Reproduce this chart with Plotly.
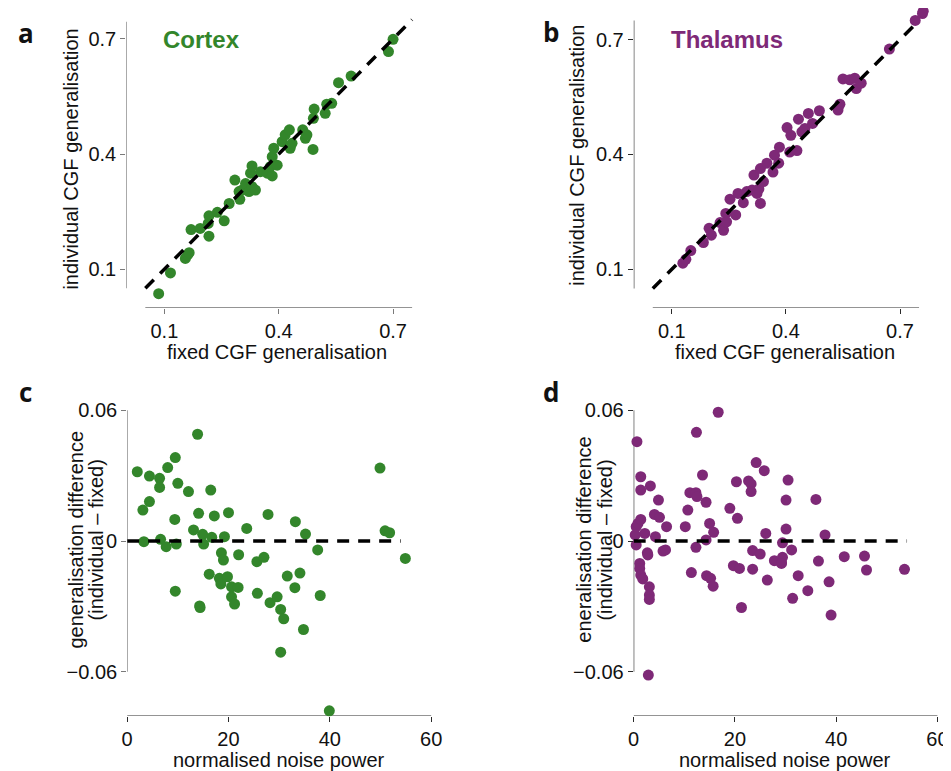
import plotly.graph_objects as go

W, H = 951, 771
OFF = 8  # default page body margin
FW, FH = W - OFF, H - OFF

# ---------------- data ----------------
CORTEX_FIXED = [0.085, 0.116, 0.155, 0.161, 0.165, 0.170, 0.194, 0.217, 0.215, 0.217, 0.239, 0.257,
                0.270, 0.298, 0.285, 0.296, 0.304, 0.313, 0.322, 0.330, 0.339, 0.326, 0.330, 0.352,
                0.370, 0.383, 0.378, 0.396, 0.383, 0.387, 0.409, 0.430, 0.435, 0.417, 0.428, 0.463,
                0.470, 0.474, 0.490, 0.491, 0.493, 0.522, 0.526, 0.539, 0.557, 0.590, 0.688, 0.700]
CORTEX_INDIV = [0.036, 0.090, 0.128, 0.137, 0.143, 0.203, 0.206, 0.186, 0.219, 0.239, 0.248, 0.226,
                0.271, 0.282, 0.332, 0.302, 0.306, 0.323, 0.302, 0.315, 0.306, 0.350, 0.369, 0.354,
                0.350, 0.343, 0.367, 0.371, 0.393, 0.415, 0.432, 0.415, 0.428, 0.450, 0.463, 0.463,
                0.441, 0.450, 0.412, 0.493, 0.517, 0.506, 0.530, 0.532, 0.586, 0.603, 0.667, 0.699]

THAL_FIXED = [0.129, 0.137, 0.150, 0.183, 0.198, 0.204, 0.227, 0.236, 0.242, 0.244, 0.268, 0.253,
              0.274, 0.288, 0.297, 0.311, 0.324, 0.333, 0.329, 0.316, 0.333, 0.341, 0.350, 0.366,
              0.370, 0.383, 0.381, 0.410, 0.429, 0.413, 0.403, 0.433, 0.442, 0.450, 0.459, 0.470,
              0.488, 0.537, 0.542, 0.550, 0.568, 0.581, 0.585, 0.598, 0.672, 0.740, 0.759, 0.761]
THAL_INDIV = [0.116, 0.126, 0.149, 0.170, 0.207, 0.189, 0.222, 0.202, 0.246, 0.224, 0.242, 0.283,
              0.298, 0.274, 0.303, 0.307, 0.298, 0.272, 0.310, 0.346, 0.363, 0.329, 0.377, 0.354,
              0.398, 0.419, 0.377, 0.406, 0.410, 0.450, 0.470, 0.492, 0.459, 0.468, 0.507, 0.481,
              0.514, 0.516, 0.531, 0.597, 0.595, 0.599, 0.572, 0.586, 0.675, 0.750, 0.768, 0.774]

CORTEX_NOISE = [2.0, 3.1, 3.3, 4.4, 4.4, 6.4, 6.4, 6.6, 7.7, 8.0, 9.5, 9.4, 9.7, 9.5, 10.0, 12.1,
                13.9, 13.1, 14.1, 14.9, 15.1, 14.3, 14.4, 16.5, 16.7, 17.2, 16.2, 18.2, 18.5, 18.6,
                19.0, 19.2, 19.8, 20.0, 20.6, 21.9, 20.6, 21.2, 22.0, 23.6, 25.6, 27.0, 25.7, 27.8,
                28.2, 29.6, 30.3, 30.9, 30.3, 31.6, 33.2, 33.1, 34.1, 34.8, 35.2, 37.6, 38.1, 39.9,
                49.9, 50.9, 51.8, 54.9]
CORTEX_DIFF = [0.0318, 0.0142, -0.0003, 0.0298, 0.0181, 0.0288, 0.0246, 0.0008, -0.0026, 0.0337,
               0.0383, 0.0099, -0.0014, -0.0230, 0.0265, 0.0227, 0.0490, 0.0051, 0.0127, 0.0031,
               -0.0014, -0.0298, -0.0305, 0.0234, 0.0017, 0.0115, -0.0152, -0.0171, -0.0197, -0.0054,
               -0.0087, 0.0020, -0.0164, 0.0130, -0.0210, -0.0213, -0.0256, -0.0289, -0.0063, 0.0058,
               -0.0095, -0.0075, -0.0240, 0.0122, -0.0283, -0.0256, -0.0314, -0.0357, -0.0510, -0.0161,
               0.0089, -0.0214, -0.0147, -0.0406, 0.0032, -0.0041, -0.0250, -0.0779,
               0.0335, 0.0047, 0.0038, -0.0080]

THAL_NOISE = [0.65, 1.4, 1.4, 0.5, 0.85, 1.4, 0.3, 2.2, 0.5, 3.3, 4.1, 5.1, 4.9, 4.3, 2.7, 2.8,
              1.2, 1.2, 1.4, 1.8, 3.1, 3.1, 3.1, 2.9, 5.8, 6.3, 6.5, 10.2, 10.7, 11.1, 12.3, 12.5,
              12.4, 13.6, 14.3, 15.0, 15.8, 14.3, 12.3, 11.4, 14.4, 15.2, 15.7, 16.7, 19.0, 20.3,
              20.5, 19.7, 20.9, 21.3, 22.7, 23.2, 23.2, 24.2, 25.8, 23.5, 25.0, 23.5, 26.1, 26.4,
              27.8, 29.2, 29.4, 29.2, 29.4, 30.1, 30.1, 30.5, 31.2, 32.5, 31.4, 34.4, 36.0, 36.5,
              37.8, 38.6, 39.0, 41.6, 45.6, 46.0, 53.5]
THAL_DIFF = [0.0456, 0.0295, 0.0234, 0.0066, 0.0081, 0.0099, 0.0028, 0.0035, -0.0018, 0.0253,
             0.0122, 0.0109, 0.0188, 0.0020, -0.0054, -0.0064, -0.0103, -0.0126, -0.0156, -0.0174,
             -0.0210, -0.0248, -0.0268, -0.0615, -0.0046, -0.0041, 0.0066, 0.0066, 0.0142, 0.0222,
             0.0222, 0.0204, 0.0499, 0.0303, 0.0178, 0.0081, 0.0040, 0.0005, -0.0029, -0.0145,
             -0.0159, -0.0171, -0.0207, 0.0591, 0.0150, 0.0272, 0.0104, -0.0113, -0.0126, -0.0305,
             0.0276, 0.0262, 0.0227, 0.0360, 0.0323, -0.0044, -0.0060, -0.0129, 0.0035, -0.0179,
             -0.0090, -0.0098, -0.0075, -0.0103, -0.0008, 0.0055, 0.0188, 0.0280, -0.0041, -0.0159,
             -0.0263, -0.0228, 0.0191, -0.0092, 0.0028, -0.0187, -0.0340, -0.0072, -0.0069, -0.0133,
             -0.0130]

DIAG = [0.05, 0.75]
ZERO_X = [0, 54]
ZERO_Y = [0, 0]

GEN_TICKS = [0.1, 0.4, 0.7]
GEN_TICK_TEXT = ["0.1", "0.4", "0.7"]
DIFF_TICKS = [-0.06, 0, 0.06]
DIFF_TICK_TEXT = ["\u22120.06", "0", "0.06"]
NOISE_TICKS = [0, 20, 40, 60]
NOISE_TICK_TEXT = ["0", "20", "40", "60"]

# ---------------- style ----------------
GREEN = "#33862b"
PURPLE = "#7e2977"
FONT = "Liberation Sans, Arial, sans-serif"
AX_FS = 20
GREY_AX = "#7a7a7a"
DARK_AX = "#2a2a2a"


def px(x):
    return (x - OFF) / FW


def py(y):
    return 1 - (y - OFF) / FH


fig = go.Figure()

panels = [
    ("", CORTEX_FIXED, CORTEX_INDIV, GREEN),
    ("2", THAL_FIXED, THAL_INDIV, PURPLE),
    ("3", CORTEX_NOISE, CORTEX_DIFF, GREEN),
    ("4", THAL_NOISE, THAL_DIFF, PURPLE),
]

for suf, xs, ys, col in panels:
    fig.add_trace(go.Scatter(x=xs, y=ys, mode="markers", xaxis="x" + suf, yaxis="y" + suf,
                             marker=dict(color=col, size=11, line=dict(width=0)),
                             cliponaxis=False, showlegend=False, hoverinfo="skip"))

dash_style = dict(color="black", width=3.5, dash="12px,9px")
for suf in ["", "2"]:
    fig.add_trace(go.Scatter(x=DIAG, y=DIAG, mode="lines", xaxis="x" + suf, yaxis="y" + suf,
                             line=dash_style, showlegend=False, hoverinfo="skip", cliponaxis=False))
for suf in ["3", "4"]:
    fig.add_trace(go.Scatter(x=ZERO_X, y=ZERO_Y, mode="lines", xaxis="x" + suf, yaxis="y" + suf,
                             line=dash_style, showlegend=False, hoverinfo="skip", cliponaxis=False))


def axis(domain, rng, tickvals, ticktext, anchor, color):
    return dict(domain=domain, range=rng, tickvals=tickvals, ticktext=ticktext, anchor=anchor,
                showgrid=False, zeroline=False, showline=False, ticks="outside", ticklen=5,
                tickwidth=1, tickcolor=color, tickfont=dict(family=FONT, size=AX_FS, color="#111"),
                fixedrange=True)


GEN_RANGE = [0, 0.78]
DIFF_BOTTOM = -0.0803
DIFF_RANGE = [DIFF_BOTTOM, 0.07]
NOISE_RANGE = [0, 62]

fig.update_layout(
    xaxis=axis([px(121.1), px(420.6)], GEN_RANGE, GEN_TICKS, GEN_TICK_TEXT, "y", GREY_AX),
    yaxis=axis([py(307.5), py(8.2)], GEN_RANGE, GEN_TICKS, GEN_TICK_TEXT, "x", GREY_AX),
    xaxis2=axis([px(632.4), px(931.3)], GEN_RANGE, GEN_TICKS, GEN_TICK_TEXT, "y2", DARK_AX),
    yaxis2=axis([py(307.6), py(8.9)], GEN_RANGE, GEN_TICKS, GEN_TICK_TEXT, "x2", DARK_AX),
    xaxis3=axis([px(122.0), px(438.5)], NOISE_RANGE, NOISE_TICKS, NOISE_TICK_TEXT, "y3", DARK_AX),
    yaxis3=axis([py(716), py(388.5)], DIFF_RANGE, DIFF_TICKS, DIFF_TICK_TEXT, "x3", GREY_AX),
    xaxis4=axis([px(632.3), px(948.5)], NOISE_RANGE, NOISE_TICKS, NOISE_TICK_TEXT, "y4", DARK_AX),
    yaxis4=axis([py(716), py(388.5)], DIFF_RANGE, DIFF_TICKS, DIFF_TICK_TEXT, "x4", DARK_AX),
)

shapes = []


def spine(xref, yref, x0, x1, y0, y1, color):
    shapes.append(dict(type="line", xref=xref, yref=yref, x0=x0, x1=x1, y0=y0, y1=y1,
                       line=dict(color=color, width=1.2), layer="below"))


spine("x", "y", 0.05, 0.75, 0, 0, DARK_AX)
spine("x", "y", 0, 0, 0.05, 0.745, GREY_AX)
spine("x2", "y2", 0.05, 0.75, 0, 0, DARK_AX)
spine("x2", "y2", 0, 0, 0.05, 0.75, DARK_AX)
spine("x3", "y3", 0, 60, DIFF_BOTTOM, DIFF_BOTTOM, DARK_AX)
spine("x3", "y3", 0, 0, -0.06, 0.06, GREY_AX)
spine("x4", "y4", 0, 60, DIFF_BOTTOM, DIFF_BOTTOM, DARK_AX)
spine("x4", "y4", 0, 0, -0.06, 0.06, DARK_AX)

annotations = []


def text(x, y, s, size=AX_FS, angle=0, bold=False, color="#111", family=FONT):
    annotations.append(dict(x=px(x), y=py(y), xref="paper", yref="paper", text=s,
                            showarrow=False, textangle=angle, xanchor="center", yanchor="middle",
                            font=dict(family=family, size=size, color=color,
                                      weight="bold" if bold else "normal")))


# panel letters
LETTER_FONT = "Open Sans, DejaVu Sans, sans-serif"
text(20, 33, "a", size=26, bold=True, family=LETTER_FONT)
text(549, 32, "b", size=26, bold=True, family=LETTER_FONT)
text(20, 392, "c", size=26, bold=True, family=LETTER_FONT)
text(549, 392, "d", size=26, bold=True, family=LETTER_FONT)

# panel titles
text(197, 40, "Cortex", size=24, bold=True, color=GREEN)
text(726, 40, "Thalamus", size=24, bold=True, color=PURPLE)

# axis titles
text(273, 352, "fixed CGF generalisation")
text(785, 352, "fixed CGF generalisation")
text(275, 760, "normalised noise power")
text(785, 760, "normalised noise power")
text(65, 159, "individual CGF generalisation", angle=-90)
text(575, 155, "individual CGF generalisation", angle=-90)
text(70, 540, "generalisation difference", angle=-90)
text(91, 540, "(individual \u2013 fixed)", angle=-90)
text(582, 540, "eneralisation difference", angle=-90)
text(603, 540, "(individual \u2013 fixed)", angle=-90)

fig.update_layout(
    width=FW, height=FH, margin=dict(l=0, r=0, t=0, b=0),
    paper_bgcolor="white", plot_bgcolor="white",
    shapes=shapes, annotations=annotations,
    font=dict(family=FONT, size=AX_FS, color="#111"),
)

fig.write_html("out.html")
